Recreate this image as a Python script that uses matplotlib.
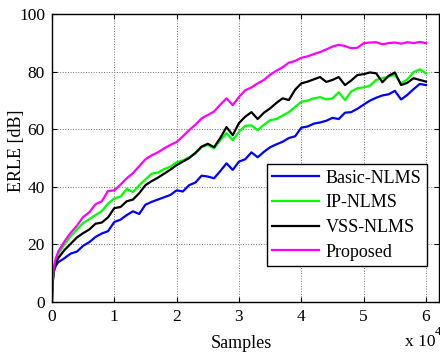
import matplotlib
matplotlib.use("Agg")
import matplotlib.pyplot as plt

# ERLE convergence of four adaptive filters; samples are in units of 1e4
samples = [0, 0.01, 0.03, 0.06, 0.1,
           0.2, 0.3, 0.4, 0.5, 0.6, 0.7, 0.8, 0.9, 1.0,
           1.1, 1.2, 1.3, 1.4, 1.5, 1.6, 1.7, 1.8, 1.9, 2.0,
           2.1, 2.2, 2.3, 2.4, 2.5, 2.6, 2.7, 2.8, 2.9, 3.0,
           3.1, 3.2, 3.3, 3.4, 3.5, 3.6, 3.7, 3.8, 3.9, 4.0,
           4.1, 4.2, 4.3, 4.4, 4.5, 4.6, 4.7, 4.8, 4.9, 5.0,
           5.1, 5.2, 5.3, 5.4, 5.5, 5.6, 5.7, 5.8, 5.9, 6.0]

basic_nlms = [0, 6, 10.5, 12.5, 13.8,
              15.2, 16.8, 17.5, 19.5, 20.8, 22.6, 23.8, 24.6, 27.8,
              28.6, 30.2, 31.5, 30.6, 33.8, 34.8, 35.6, 36.4, 37.2, 38.8,
              38.4, 40.6, 41.5, 43.9, 43.6, 43.0, 45.5, 48.2, 45.9, 48.8,
              49.6, 52.0, 50.3, 52.2, 53.8, 54.8, 55.7, 57.0, 57.6, 60.6,
              61.0, 62.0, 62.4, 63.0, 64.0, 63.6, 65.8, 66.0, 67.2, 68.6,
              70.0, 71.0, 71.8, 72.2, 73.4, 70.4, 72.0, 74.0, 75.8, 75.4]

ip_nlms = [0, 7, 11.5, 14, 16.5,
           20, 22.8, 25.2, 27.4, 28.8, 30.2, 31.6, 34.2, 36.0,
           36.6, 39.3, 38.2, 40.6, 42.6, 44.6, 45.0, 46.2, 47.0, 48.6,
           49.2, 50.3, 51.6, 53.8, 54.6, 53.4, 56.2, 58.7, 56.2, 59.2,
           61.2, 61.4, 59.7, 61.6, 63.2, 63.6, 64.8, 66.0, 67.8, 69.6,
           70.0, 70.8, 71.2, 70.4, 70.8, 72.9, 70.2, 73.2, 74.3, 74.6,
           75.2, 77.2, 77.8, 78.4, 78.9, 76.0, 77.4, 79.9, 80.9, 79.5]

vss_nlms = [0, 6.5, 11, 13.2, 15.2,
            18.0, 20.2, 22.4, 23.9, 25.2, 27.2, 27.6, 29.4, 32.6,
            33.0, 35.0, 35.6, 37.8, 40.6, 42.0, 43.2, 44.6, 46.0, 47.6,
            48.8, 50.0, 51.8, 54.0, 55.0, 53.8, 57.0, 60.8, 58.0, 62.2,
            64.4, 66.0, 63.6, 65.8, 67.3, 69.2, 70.8, 70.2, 73.8, 76.0,
            76.6, 77.4, 78.2, 76.5, 77.2, 78.2, 75.4, 77.0, 78.9, 79.2,
            79.8, 79.5, 76.4, 78.6, 79.8, 75.4, 76.2, 77.8, 77.2, 76.6]

proposed = [0, 7.5, 12, 15, 17.5,
            21, 24, 26.5, 29.5, 31.2, 34.0, 35.0, 38.6, 38.8,
            40.8, 43.0, 44.8, 47.2, 49.6, 51.0, 52.0, 53.4, 54.6, 55.6,
            57.6, 59.7, 61.6, 63.8, 65.0, 66.2, 68.6, 70.8, 68.4, 71.3,
            73.6, 74.6, 76.0, 77.2, 79.0, 80.4, 81.6, 83.2, 83.8, 84.9,
            85.4, 86.2, 86.9, 87.8, 88.8, 89.4, 89.0, 88.2, 88.4, 90.0,
            90.2, 90.3, 89.6, 90.0, 90.2, 89.8, 90.3, 90.0, 90.4, 90.0]

labels = ["Basic-NLMS", "IP-NLMS", "VSS-NLMS", "Proposed"]
colors = ["#0000ff", "#00ff00", "#000000", "#ff00ff"]
xticks = [0, 1, 2, 3, 4, 5, 6]
yticks = [0, 20, 40, 60, 80, 100]

plt.rcParams["font.family"] = ["Liberation Serif", "DejaVu Serif"]

fig = plt.figure(figsize=(4.4, 3.59), dpi=100)
ax = fig.add_axes([0.118, 0.159, 0.8786, 0.801])

for ys, lab, col in zip([basic_nlms, ip_nlms, vss_nlms, proposed], labels, colors):
    ax.plot(samples, ys, color=col, lw=1.6, label=lab)

ax.set_xlim(0, 6.2)
ax.set_ylim(0, 100)
ax.set_xticks(xticks)
ax.set_yticks(yticks)
ax.grid(True, linestyle=":", color="0.45", lw=0.7)
ax.tick_params(direction="in", top=True, right=True, length=3.5,
               labelsize=12.5, width=0.8, pad=5)
for sp in ax.spines.values():
    sp.set_linewidth(1.0)

ax.set_xlabel("Samples", fontsize=13)
ax.set_ylabel("ERLE [dB]", fontsize=13)
ax.xaxis.set_label_coords(0.49, -0.115)
ax.yaxis.set_label_coords(-0.07, 0.525)

fig.text(0.920, 0.035, "x 10", fontsize=12.5)
fig.text(0.988, 0.068, "4", fontsize=9)

leg = ax.legend(loc="lower right", bbox_to_anchor=(0.970, 0.125), fontsize=13,
                frameon=True, fancybox=False, edgecolor="black", borderaxespad=0,
                handlelength=2.6, handletextpad=0.35, labelspacing=0.42,
                borderpad=0.3)
leg.get_frame().set_linewidth(1.0)
leg.get_frame().set_alpha(1)

fig.savefig("out.png", dpi=100)
